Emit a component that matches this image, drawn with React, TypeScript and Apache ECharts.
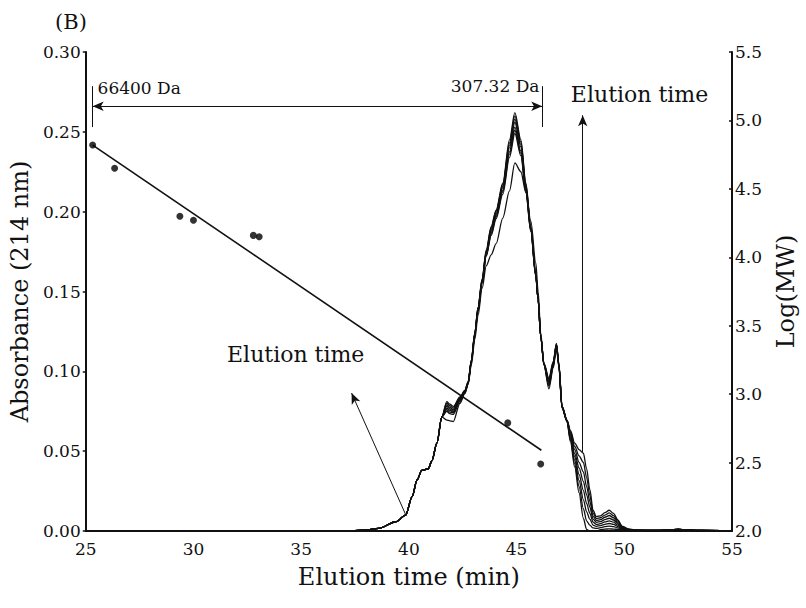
import React, { useEffect, useRef } from "react";
import * as echarts from "echarts";

// ---- Data ----
const xTicks = [25, 30, 35, 40, 45, 50, 55];
const absTicks = [0, 0.05, 0.1, 0.15, 0.2, 0.25, 0.3];
const logTicks = [2.0, 2.5, 3.0, 3.5, 4.0, 4.5, 5.0, 5.5];

// common rising part of all chromatograms
const riseTime = [25, 37, 38, 38.6, 39.4, 39.85, 40.15, 40.38, 40.6, 40.9, 41.07, 41.3, 41.53];
const riseAbs = [0, 0, 0.0005, 0.0017, 0.0058, 0.01, 0.0215, 0.032, 0.038, 0.039, 0.044, 0.055, 0.0715];

const peakTime = [41.76, 41.9, 42.06, 42.37, 42.6, 42.75, 42.9, 43.06, 43.21, 43.4, 43.59, 43.82, 44.05, 44.36, 44.67, 44.92, 45.2, 45.43, 45.66, 45.89, 46.0, 46.12, 46.27, 46.5, 46.7, 46.85, 46.96, 47.11, 47.34, 47.5, 47.7, 47.9, 48.1, 48.25, 48.4, 48.55, 48.7, 48.9, 49.1, 49.3, 49.5, 49.7, 49.9, 50.2, 50.6, 51.5, 52.5, 53.5, 55];

const curve1 = [0.081, 0.0795, 0.078, 0.084, 0.088, 0.0935, 0.107, 0.124, 0.14, 0.158, 0.176, 0.1906, 0.201, 0.218, 0.245, 0.262, 0.245, 0.218, 0.1906, 0.161, 0.145, 0.122, 0.105, 0.0956, 0.106, 0.1175, 0.105, 0.078, 0.0695, 0.063, 0.055, 0.051, 0.0487, 0.039, 0.026, 0.013, 0.009, 0.0095, 0.0115, 0.013, 0.011, 0.007, 0.003, 0.0012, 0.0005, 0.0003, 0.001, 0.0003, 0];
const curve2 = [0.08, 0.0785, 0.077, 0.0835, 0.088, 0.0933, 0.107, 0.124, 0.14, 0.1575, 0.175, 0.19, 0.2005, 0.217, 0.243, 0.26, 0.2435, 0.217, 0.19, 0.161, 0.145, 0.122, 0.1048, 0.0948, 0.1055, 0.117, 0.1048, 0.078, 0.0694, 0.062, 0.053, 0.047, 0.043, 0.0336, 0.0223, 0.0112, 0.0078, 0.0083, 0.01, 0.0113, 0.0096, 0.0062, 0.0027, 0.0011, 0.0005, 0.0003, 0.001, 0.0003, 0];
const curve3 = [0.079, 0.0775, 0.076, 0.083, 0.0875, 0.093, 0.1065, 0.1235, 0.1395, 0.157, 0.1745, 0.189, 0.1995, 0.216, 0.2415, 0.258, 0.242, 0.216, 0.1895, 0.1605, 0.145, 0.122, 0.1046, 0.094, 0.105, 0.1168, 0.1046, 0.078, 0.0693, 0.061, 0.051, 0.043, 0.037, 0.028, 0.0186, 0.0093, 0.0066, 0.0071, 0.0086, 0.0097, 0.0083, 0.0054, 0.0024, 0.001, 0.0005, 0.0003, 0.001, 0.0003, 0];
const curve4 = [0.078, 0.0765, 0.075, 0.0825, 0.0875, 0.0928, 0.1065, 0.1235, 0.139, 0.1565, 0.174, 0.188, 0.1985, 0.215, 0.24, 0.256, 0.2405, 0.215, 0.189, 0.1605, 0.145, 0.122, 0.1044, 0.0932, 0.1045, 0.1165, 0.1044, 0.0778, 0.0692, 0.06, 0.0485, 0.0395, 0.031, 0.0227, 0.0149, 0.0075, 0.0054, 0.0059, 0.0071, 0.008, 0.0069, 0.0045, 0.0021, 0.0009, 0.0004, 0.0003, 0.001, 0.0003, 0];
const curve5 = [0.077, 0.0755, 0.0745, 0.082, 0.087, 0.0925, 0.106, 0.123, 0.1385, 0.156, 0.173, 0.187, 0.1975, 0.2135, 0.2375, 0.253, 0.238, 0.214, 0.1885, 0.16, 0.145, 0.122, 0.1042, 0.0924, 0.104, 0.1162, 0.1042, 0.0776, 0.069, 0.059, 0.0465, 0.0355, 0.0255, 0.0173, 0.0111, 0.0056, 0.0041, 0.0046, 0.0057, 0.0064, 0.0055, 0.0037, 0.0018, 0.0008, 0.0004, 0.0003, 0.001, 0.0003, 0];
const curve6 = [0.076, 0.0745, 0.074, 0.0815, 0.087, 0.0923, 0.106, 0.123, 0.138, 0.1555, 0.1725, 0.186, 0.1965, 0.2125, 0.236, 0.251, 0.2365, 0.213, 0.188, 0.16, 0.145, 0.122, 0.104, 0.0916, 0.1035, 0.116, 0.104, 0.0774, 0.0689, 0.058, 0.0443, 0.0317, 0.0197, 0.012, 0.0074, 0.0037, 0.0029, 0.0034, 0.0042, 0.0047, 0.0041, 0.0028, 0.0015, 0.0007, 0.0004, 0.0003, 0.001, 0.0003, 0];
const curve7 = [0.075, 0.0735, 0.073, 0.081, 0.0865, 0.092, 0.1055, 0.1225, 0.1375, 0.155, 0.172, 0.185, 0.1955, 0.211, 0.234, 0.249, 0.235, 0.212, 0.1875, 0.1595, 0.145, 0.122, 0.104, 0.0908, 0.103, 0.1157, 0.1035, 0.0772, 0.0688, 0.057, 0.042, 0.028, 0.014, 0.0064, 0.0037, 0.0019, 0.0016, 0.0021, 0.0028, 0.003, 0.0027, 0.002, 0.0012, 0.0006, 0.0003, 0.0003, 0.001, 0.0003, 0];
const curve8 = [0.0695, 0.069, 0.0685, 0.08, 0.086, 0.092, 0.104, 0.12, 0.135, 0.152, 0.166, 0.173, 0.18, 0.196, 0.213, 0.2305, 0.225, 0.212, 0.194, 0.168, 0.15, 0.124, 0.104, 0.089, 0.102, 0.115, 0.103, 0.077, 0.0685, 0.056, 0.04, 0.024, 0.008, 0.001, 0, 0, 0, 0.0008, 0.0012, 0.0013, 0.0012, 0.001, 0.0008, 0.0005, 0.0003, 0.0003, 0.001, 0.0003, 0];
const curves = [curve1, curve2, curve3, curve4, curve5, curve6, curve7, curve8];

// molecular weight standards (right axis)
const stdTime = [25.32, 26.34, 29.37, 30.0, 32.78, 33.05, 44.59, 46.12];
const stdLogMw = [4.82, 4.65, 4.3, 4.27, 4.16, 4.15, 2.79, 2.49];
const fitTime = [25.32, 46.15];
const fitLogMw = [4.82, 2.59];

// annotation anchors (data space, left axis)
const rangeTime = [25.32, 46.19];
const rangeAbs = 0.266;
const rangeBarAbs = [0.253, 0.2786];
const elutionArrowTime = 48.07;
const elutionArrowAbs = [0.0495, 0.2604];
const diagArrowFrom = [39.86, 0.01];
const diagArrowTo = [37.34, 0.0864];

const FONT = "'DejaVu Serif', 'Liberation Serif', serif";
const INK = "#111";

export default function App() {
  const ref = useRef<HTMLDivElement>(null);

  useEffect(() => {
    if (!ref.current) return;
    const chart = echarts.init(ref.current, null, { renderer: "svg" });

    const curveSeries = curves.map((c, k) => {
      const data = riseTime
        .map((t, i) => [t, riseAbs[i]])
        .concat(peakTime.map((t, i) => [t, c[i]]));
      const s: any = {
        type: "line",
        name: "run" + (k + 1),
        data,
        xAxisIndex: 0,
        yAxisIndex: 0,
        showSymbol: false,
        symbol: "none",
        smooth: 0.3,
        smoothMonotone: "x",
        lineStyle: { color: INK, width: 1.3 },
        silent: true,
        z: 2,
      };
      if (k === 0) {
        s.markLine = {
          silent: true,
          symbol: "none",
          label: { show: false },
          lineStyle: { color: INK, width: 1, type: "solid" },
          emphasis: { disabled: true },
          data: [
            [
              { coord: [rangeTime[0], rangeAbs], symbol: "arrow", symbolSize: [7, 11] },
              { coord: [rangeTime[1], rangeAbs], symbol: "arrow", symbolSize: [7, 11] },
            ],
            [{ coord: [rangeTime[0], rangeBarAbs[0]] }, { coord: [rangeTime[0], rangeBarAbs[1]] }],
            [{ coord: [rangeTime[1], rangeBarAbs[0]] }, { coord: [rangeTime[1], rangeBarAbs[1]] }],
            [
              { coord: [elutionArrowTime, elutionArrowAbs[0]] },
              { coord: [elutionArrowTime, elutionArrowAbs[1]], symbol: "arrow", symbolSize: [7, 11] },
            ],
            [
              { coord: diagArrowFrom },
              { coord: diagArrowTo, symbol: "arrow", symbolSize: [7, 11] },
            ],
          ],
        };
      }
      return s;
    });

    const axisLabelStyle = { fontFamily: FONT, fontSize: 17, lineHeight: 17, color: INK };
    const titleStyle = { fontFamily: FONT, fontSize: 24, color: INK };

    const option: any = {
      animation: false,
      backgroundColor: "#fff",
      grid: { left: 83, right: 69, top: 52, bottom: 77, containLabel: false },
      xAxis: {
        type: "value",
        min: xTicks[0],
        max: xTicks[xTicks.length - 1],
        interval: 5,
        name: "Elution time (min)",
        nameLocation: "middle",
        nameGap: 34,
        nameTextStyle: titleStyle,
        axisLine: { show: true, onZero: false, lineStyle: { color: INK, width: 2 } },
        axisTick: { show: false },
        axisLabel: { ...axisLabelStyle, margin: 9 },
        splitLine: { show: false },
      },
      yAxis: [
        {
          type: "value",
          position: "left",
          min: absTicks[0],
          max: absTicks[absTicks.length - 1],
          interval: 0.05,
          name: "Absorbance (214 nm)",
          nameLocation: "middle",
          nameRotate: 90,
          nameGap: 48,
          nameTextStyle: titleStyle,
          axisLine: { show: true, onZero: false, lineStyle: { color: INK, width: 2 } },
          axisTick: { show: true, inside: false, length: 3, lineStyle: { color: INK, width: 1.5 } },
          axisLabel: { ...axisLabelStyle, margin: 5, formatter: (v: number) => v.toFixed(2) },
          splitLine: { show: false },
        },
        {
          type: "value",
          position: "right",
          min: logTicks[0],
          max: logTicks[logTicks.length - 1],
          interval: 0.5,
          name: "Log(MW)",
          nameLocation: "middle",
          nameRotate: 90,
          nameGap: 42,
          nameTextStyle: titleStyle,
          axisLine: { show: true, onZero: false, lineStyle: { color: INK, width: 2 } },
          axisTick: { show: true, inside: true, length: 3, lineStyle: { color: INK, width: 1.5 } },
          axisLabel: { ...axisLabelStyle, margin: 3, formatter: (v: number) => v.toFixed(1) },
          splitLine: { show: false },
        },
      ],
      series: [
        ...curveSeries,
        {
          type: "line",
          name: "fit",
          xAxisIndex: 0,
          yAxisIndex: 1,
          data: fitTime.map((t, i) => [t, fitLogMw[i]]),
          showSymbol: false,
          symbol: "none",
          lineStyle: { color: INK, width: 1.6 },
          silent: true,
          z: 3,
        },
        {
          type: "scatter",
          name: "standards",
          xAxisIndex: 0,
          yAxisIndex: 1,
          data: stdTime.map((t, i) => [t, stdLogMw[i]]),
          symbol: "circle",
          symbolSize: 7,
          itemStyle: { color: "#000" },
          silent: true,
          z: 4,
        },
      ],
    };

    chart.setOption(option);

    const px = (t: number, a: number) =>
      chart.convertToPixel({ xAxisIndex: 0, yAxisIndex: 0 }, [t, a]) as number[];

    const p66 = px(25.55, 0.2777);
    const p307 = px(46.06, 0.2786);
    const pEl1 = px(47.52, 0.2734);
    const pEl2 = px(31.56, 0.1104);

    const txt = (x: number, y: number, text: string, size: number, align: string) => ({
      type: "text",
      x,
      y,
      silent: true,
      style: {
        text,
        font: `${size}px ${FONT}`,
        fill: INK,
        align,
        verticalAlign: "middle",
        textAlign: align,
        textVerticalAlign: "middle",
      },
    });

    chart.setOption({
      graphic: [
        txt(p66[0], p66[1], "66400 Da", 17, "left"),
        txt(p307[0], p307[1], "307.32 Da", 17, "right"),
        txt(pEl1[0], pEl1[1], "Elution time", 22, "left"),
        txt(pEl2[0], pEl2[1], "Elution time", 22, "left"),
        txt(71, 22, "(B)", 21, "center"),
      ],
    });

    return () => chart.dispose();
  }, []);

  return (
    <div
      ref={ref}
      style={{ position: "absolute", left: 0, top: 0, width: 806, height: 608, background: "#fff" }}
    />
  );
}
